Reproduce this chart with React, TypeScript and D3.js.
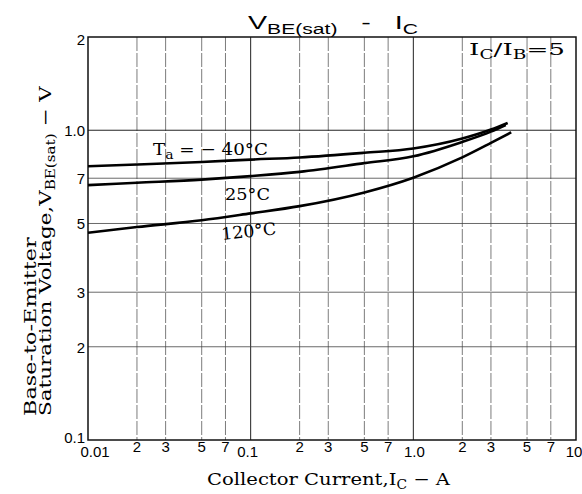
import { useEffect, useRef } from "react";
import * as d3 from "d3";

// collector current (A) and V_BE(sat) (V)
const iM40 = [0.01, 0.02, 0.05, 0.1, 0.2, 0.5, 1, 2, 3, 3.8];
const vM40 = [0.765, 0.775, 0.79, 0.804, 0.817, 0.846, 0.873, 0.94, 1.005, 1.056];
const i25 = [0.01, 0.02, 0.05, 0.1, 0.2, 0.5, 1, 2, 3, 3.7];
const v25 = [0.665, 0.677, 0.693, 0.711, 0.734, 0.783, 0.824, 0.917, 0.99, 1.04];
const i120 = [0.01, 0.02, 0.05, 0.1, 0.2, 0.5, 1, 2, 3, 4];
const v120 = [0.467, 0.487, 0.512, 0.539, 0.569, 0.63, 0.703, 0.817, 0.91, 0.985];

const xDecades = [0.01, 0.1, 1, 10];
const xDecadeLabels = ["0.01", "0.1", "1.0", "10"];
const xMinor = [0.02, 0.03, 0.05, 0.07, 0.2, 0.3, 0.5, 0.7, 2, 3, 5, 7];
const xMinorLabels = ["2", "3", "5", "7", "2", "3", "5", "7", "2", "3", "5", "7"];
const yGrid = [0.2, 0.3, 0.5, 0.7, 1];
const yTicks = [2, 1, 0.7, 0.5, 0.3, 0.2, 0.1];
const yTickLabels = ["2", "1.0", "7", "5", "3", "2", "0.1"];

const W = 582;
const H = 494;
const SANS = "'Liberation Sans', Arial, sans-serif";
const SERIF = "'DejaVu Serif', 'Liberation Serif', serif";

export default function App() {
  const svgRef = useRef<SVGSVGElement>(null);

  useEffect(() => {
    document.body.style.margin = "0";
    const svg = d3.select(svgRef.current);
    svg.selectAll("*").remove();

    const x = d3.scaleLog().domain([0.01, 10]).range([88, 576]);
    const y = d3.scaleLog().domain([0.1, 2]).range([440, 37]);

    // grid
    const grid = svg.append("g");
    grid
      .selectAll(null)
      .data(xMinor)
      .enter()
      .append("line")
      .attr("x1", (d) => x(d))
      .attr("x2", (d) => x(d))
      .attr("y1", y(2))
      .attr("y2", y(0.1))
      .attr("stroke", "#444")
      .attr("stroke-width", 0.7)
      .attr("stroke-dasharray", "14,2");
    grid
      .selectAll(null)
      .data([0.1, 1])
      .enter()
      .append("line")
      .attr("x1", (d) => x(d))
      .attr("x2", (d) => x(d))
      .attr("y1", y(2))
      .attr("y2", y(0.1))
      .attr("stroke", "#222")
      .attr("stroke-width", 1);
    grid
      .selectAll(null)
      .data(yGrid)
      .enter()
      .append("line")
      .attr("x1", x(0.01))
      .attr("x2", x(10))
      .attr("y1", (d) => y(d))
      .attr("y2", (d) => y(d))
      .attr("stroke", (d) => (d === 1 ? "#222" : "#444"))
      .attr("stroke-width", (d) => (d === 1 ? 1 : 0.8));

    // frame
    svg
      .append("rect")
      .attr("x", x(0.01))
      .attr("y", y(2))
      .attr("width", x(10) - x(0.01))
      .attr("height", y(0.1) - y(2))
      .attr("fill", "none")
      .attr("stroke", "#111")
      .attr("stroke-width", 1.5);

    // curves
    const line = d3
      .line<[number, number]>()
      .x((d) => x(d[0]))
      .y((d) => y(d[1]))
      .curve(d3.curveMonotoneX);
    [
      [iM40, vM40],
      [i25, v25],
      [i120, v120],
    ].forEach(([is, vs]) => {
      svg
        .append("path")
        .attr("d", line(is.map((c, k) => [c, vs[k]] as [number, number])))
        .attr("fill", "none")
        .attr("stroke", "#000")
        .attr("stroke-width", 2.6);
    });

    // tick labels
    svg
      .selectAll(null)
      .data(yTicks)
      .enter()
      .append("text")
      .attr("x", 85)
      .attr("y", (d, i) => y(d) + (i === 0 ? 8 : i === yTicks.length - 1 ? 3 : 6))
      .attr("text-anchor", "end")
      .attr("font-family", SANS)
      .attr("font-size", 15)
      .text((d, i) => yTickLabels[i]);
    svg
      .selectAll(null)
      .data(xDecades)
      .enter()
      .append("text")
      .attr("x", (d, i) => x(d) + [7, -3, 1, -2][i])
      .attr("y", 457)
      .attr("text-anchor", "middle")
      .attr("font-family", SANS)
      .attr("font-size", 15)
      .text((d, i) => xDecadeLabels[i]);
    svg
      .selectAll(null)
      .data(xMinor)
      .enter()
      .append("text")
      .attr("x", (d) => x(d))
      .attr("y", 452)
      .attr("text-anchor", "middle")
      .attr("font-family", SANS)
      .attr("font-size", 15)
      .text((d, i) => xMinorLabels[i]);

    // text stretched to the widths seen in the reference
    type Part = [string, number, number];
    const place = (
      px: number,
      py: number,
      anchor: string,
      target: number,
      rot: number,
      family: string,
      size: number,
      parts: Part[]
    ) => {
      const g = svg.append("g");
      const t = g
        .append("text")
        .attr("text-anchor", anchor)
        .attr("font-family", family)
        .attr("font-size", size)
        .style("white-space", "pre");
      parts.forEach(([s, fs, dy]) => {
        t.append("tspan").attr("font-size", fs).attr("dy", dy).text(s);
      });
      const w = (t.node() as SVGTextElement).getBBox().width;
      g.attr(
        "transform",
        `translate(${px},${py}) rotate(${rot}) scale(${target / w},1)`
      );
    };

    place(248, 29, "start", 170, 0, SANS, 19, [
      ["V", 19, 0],
      ["BE(sat)", 14, 5],
      ["   -   ", 19, -5],
      ["I", 19, 0],
      ["C", 14, 5],
    ]);
    place(565, 55, "end", 96, 0, SERIF, 17, [
      ["I", 17, 0],
      ["C", 12, 4],
      ["/I", 17, -4],
      ["B", 12, 4],
      ["=5", 17, -4],
    ]);
    place(207, 485, "start", 244, 0, SERIF, 17, [
      ["Collector Current,I", 17, 0],
      ["C", 12, 4],
      [" − A", 17, -4],
    ]);
    place(36, 416, "start", 180, -90, SERIF, 17, [["Base-to-Emitter", 17, 0]]);
    place(51, 416, "start", 331, -90, SERIF, 17, [
      ["Saturation Voltage,V", 17, 0],
      ["BE(sat)", 12, 4],
      [" − V", 17, -4],
    ]);
    place(153, 155, "start", 115, 0, SERIF, 17, [
      ["T", 17, 0],
      ["a", 13, 4],
      [" = − 40°C", 17, -4],
    ]);
    place(225, 200, "start", 45, 0, SERIF, 17, [["25°C", 17, 0]]);
    place(222, 240, "start", 55, -6, SERIF, 17, [["120°C", 17, 0]]);
  }, []);

  return (
    <svg
      ref={svgRef}
      width={W}
      height={H}
      style={{ display: "block", background: "#fff" }}
    ></svg>
  );
}
